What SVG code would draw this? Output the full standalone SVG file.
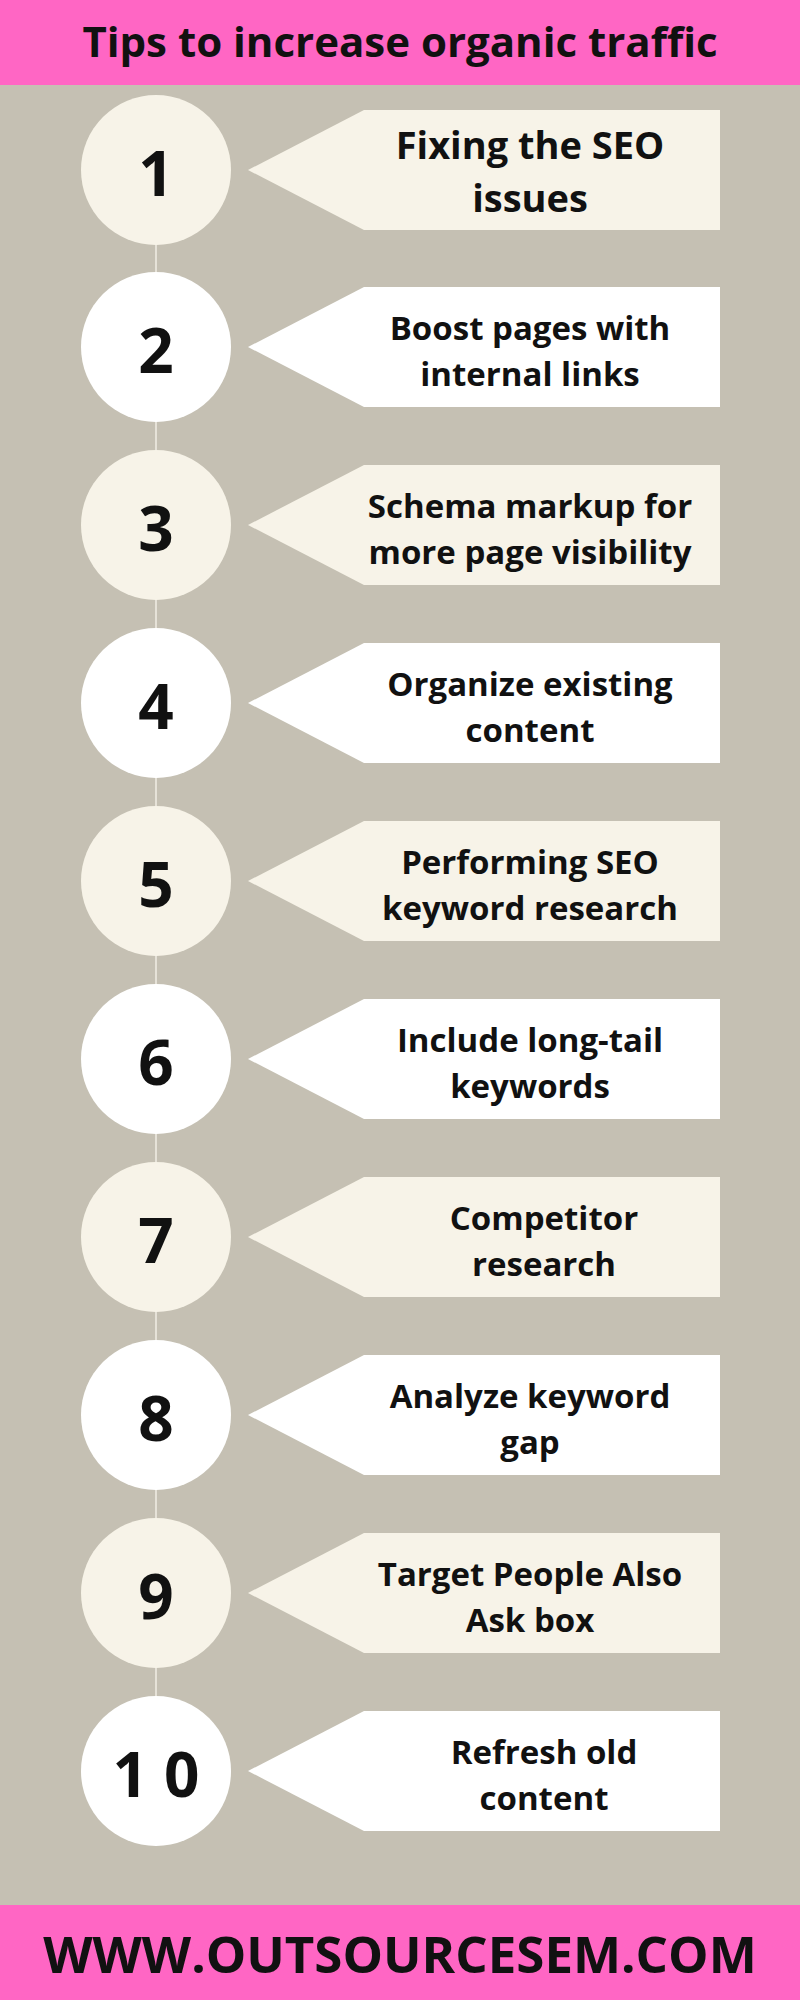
<svg xmlns="http://www.w3.org/2000/svg" width="800" height="2000" viewBox="0 0 800 2000">
<style>
.t{font-family:"Open Sans","Liberation Sans",sans-serif;font-weight:700;fill:#111;text-anchor:middle;dominant-baseline:central}
.lbl{font-size:33px}
.num{font-size:62px}
.cream{fill:#F7F3E8}
.white{fill:#FFFFFF}
</style>
<rect width="800" height="2000" fill="#C5C0B3"/>
<rect width="800" height="85" fill="#FF66C4"/>
<text class="t" x="400" y="40" font-size="42">Tips to increase organic traffic</text>
<rect y="1905" width="800" height="95" fill="#FF66C4"/>
<text class="t" x="400" y="1953" font-size="51">WWW.OUTSOURCESEM.COM</text>
<g id="connectors" stroke="#E6E2D8" stroke-width="2">
<line x1="156" y1="170" x2="156" y2="1771"/>
</g>
<g id="n1"><circle class="cream" cx="156" cy="170" r="75"/><text class="t num" x="156" y="172">1</text><path class="cream" d="M248 170 L364 110 H720 V230 H364 Z"/><text class="t" font-size="38" x="530" y="144">Fixing the SEO</text><text class="t" font-size="38" x="530" y="197">issues</text></g>
<g id="n2"><circle class="white" cx="156" cy="347" r="75"/><text class="t num" x="156" y="349">2</text><path class="white" d="M248 347 L364 287 H720 V407 H364 Z"/><text class="t lbl" x="530" y="327">Boost pages with</text><text class="t lbl" x="530" y="373">internal links</text></g>
<g id="n3"><circle class="cream" cx="156" cy="525" r="75"/><text class="t num" x="156" y="527">3</text><path class="cream" d="M248 525 L364 465 H720 V585 H364 Z"/><text class="t lbl" x="530" y="505">Schema markup for</text><text class="t lbl" x="530" y="551">more page visibility</text></g>
<g id="n4"><circle class="white" cx="156" cy="703" r="75"/><text class="t num" x="156" y="705">4</text><path class="white" d="M248 703 L364 643 H720 V763 H364 Z"/><text class="t lbl" x="530" y="683">Organize existing</text><text class="t lbl" x="530" y="729">content</text></g>
<g id="n5"><circle class="cream" cx="156" cy="881" r="75"/><text class="t num" x="156" y="883">5</text><path class="cream" d="M248 881 L364 821 H720 V941 H364 Z"/><text class="t lbl" x="530" y="861">Performing SEO</text><text class="t lbl" x="530" y="907">keyword research</text></g>
<g id="n6"><circle class="white" cx="156" cy="1059" r="75"/><text class="t num" x="156" y="1061">6</text><path class="white" d="M248 1059 L364 999 H720 V1119 H364 Z"/><text class="t lbl" x="530" y="1039">Include long-tail</text><text class="t lbl" x="530" y="1085">keywords</text></g>
<g id="n7"><circle class="cream" cx="156" cy="1237" r="75"/><text class="t num" x="156" y="1239">7</text><path class="cream" d="M248 1237 L364 1177 H720 V1297 H364 Z"/><text class="t lbl" x="544" y="1217">Competitor</text><text class="t lbl" x="544" y="1263">research</text></g>
<g id="n8"><circle class="white" cx="156" cy="1415" r="75"/><text class="t num" x="156" y="1417">8</text><path class="white" d="M248 1415 L364 1355 H720 V1475 H364 Z"/><text class="t lbl" x="530" y="1395">Analyze keyword</text><text class="t lbl" x="530" y="1441">gap</text></g>
<g id="n9"><circle class="cream" cx="156" cy="1593" r="75"/><text class="t num" x="156" y="1595">9</text><path class="cream" d="M248 1593 L364 1533 H720 V1653 H364 Z"/><text class="t lbl" x="530" y="1573">Target People Also</text><text class="t lbl" x="530" y="1619">Ask box</text></g>
<g id="n10"><circle class="white" cx="156" cy="1771" r="75"/><text class="t num" x="156" y="1773">1 0</text><path class="white" d="M248 1771 L364 1711 H720 V1831 H364 Z"/><text class="t lbl" x="544" y="1751">Refresh old</text><text class="t lbl" x="544" y="1797">content</text></g>
</svg>
